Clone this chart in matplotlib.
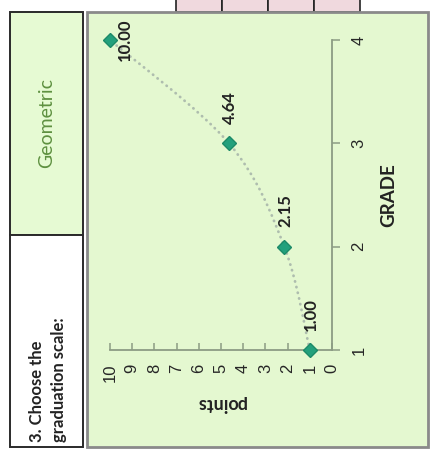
import numpy as np
import matplotlib
matplotlib.use("Agg")
import matplotlib.pyplot as plt
from matplotlib.patches import Rectangle, PathPatch
from matplotlib.path import Path

# ---- data ----
grades = [1, 2, 3, 4]
points = [1.00, 2.15, 4.64, 10.00]
point_ticks = list(range(0, 11))
grade_ticks = [1, 2, 3, 4]
scale_name = "Geometric"
prompt = "3. Choose the\ngraduation scale:"

# ---- colours ----
CHART_BG = "#e4f8d0"
CELL_BG = "#e6fad3"
PINK = "#f0d9de"
MARKER = "#23a07c"
AXIS = "#8c9c84"
DOTS = "#aebdae"

W, H = 430, 450
fig = plt.figure(figsize=(W / 100, H / 100), dpi=100)
fig.patch.set_facecolor("white")

# background layer in pixel coordinates (y downward)
bg = fig.add_axes([0, 0, 1, 1])
bg.set_xlim(0, W)
bg.set_ylim(H, 0)
bg.axis("off")

# pink header cells
for x0 in [176, 222, 268, 314]:
    bg.add_patch(Rectangle((x0, -2), 46, 14, facecolor=PINK, edgecolor="#222222", lw=1.2))

# chart frame
bg.add_patch(Rectangle((87, 12), 341, 435, facecolor=CHART_BG, edgecolor="#8a8a8a", lw=2))

# left cells
bg.add_patch(Rectangle((10, 12), 73, 223, facecolor=CELL_BG, edgecolor="#2a2a2a", lw=1.4))
bg.add_patch(Rectangle((10, 235), 73, 212, facecolor="white", edgecolor="#2a2a2a", lw=1.4))
bg.text(47, 123, scale_name, rotation=90, ha="center", va="center",
        color="#5e9040", fontsize=14, family="Lato")
bg.text(48, 442, prompt, rotation=90, ha="center", va="bottom", multialignment="left",
        color="#222222", fontsize=12, family="Lato", fontweight="bold", linespacing=1.45)

# ---- main axes: points run right-to-left, grade bottom-to-top ----
x0, x1 = 110, 332
y_top, y_bot = 40, 350
ax = fig.add_axes([x0 / W, (H - y_bot) / H, (x1 - x0) / W, (y_bot - y_top) / H])
ax.patch.set_alpha(0)
ax.set_xlim(10, 0)
ax.set_ylim(1, 4)

for s in ["top", "left"]:
    ax.spines[s].set_visible(False)
for s in ["bottom", "right"]:
    ax.spines[s].set_color(AXIS)
    ax.spines[s].set_linewidth(1.3)

ax.set_xticks(point_ticks)
ax.set_yticks(grade_ticks)
ax.yaxis.tick_right()
ax.tick_params(axis="x", direction="in", length=5, width=1.1, color=AXIS, pad=10,
               labelsize=12, labelrotation=90, labelcolor="#262626")
ax.tick_params(axis="y", direction="out", length=6, width=1.1, color=AXIS, pad=8,
               labelsize=12, labelrotation=90, labelcolor="#262626")
for lab in ax.get_xticklabels() + ax.get_yticklabels():
    lab.set_family("Liberation Sans")
for lab in ax.get_yticklabels():
    lab.set_va("center")

ax.set_xlabel("points", rotation=180, fontsize=13, family="Lato", fontweight="bold",
              color="#222222", labelpad=9)
ax.yaxis.set_label_position("right")
ax.set_ylabel("GRADE", rotation=90, fontsize=13.5, family="Lato", fontweight="bold",
              color="#222222", labelpad=10)

# smoothed dotted connector (Catmull-Rom style Bezier through the data)
pts = np.column_stack([points, grades])
padded = np.vstack([pts[0], pts, pts[-1]])
verts = [tuple(pts[0])]
codes = [Path.MOVETO]
for i in range(len(pts) - 1):
    p0, p1, p2, p3 = padded[i], padded[i + 1], padded[i + 2], padded[i + 3]
    c1 = p1 + (p2 - p0) / 6
    c2 = p2 - (p3 - p1) / 6
    verts += [tuple(c1), tuple(c2), tuple(p2)]
    codes += [Path.CURVE4] * 3
ax.add_patch(PathPatch(Path(verts, codes), facecolor="none", edgecolor=DOTS,
                       lw=2.0, linestyle=(0, (0.1, 2.0)), capstyle="round", clip_on=False))

ax.plot(points, grades, linestyle="none", marker="D", ms=7.5, color=MARKER,
        markeredgecolor="#1c8a68", clip_on=False, zorder=5)

for p, g in zip(points, grades):
    if p == max(points):
        ax.annotate(f"{p:.2f}", (p, g), xytext=(11, 0), textcoords="offset points",
                    rotation=90, ha="center", va="center", fontsize=12,
                    family="Lato", fontweight="bold", color="#222222")
    else:
        ax.annotate(f"{p:.2f}", (p, g), xytext=(1, 14), textcoords="offset points",
                    rotation=90, ha="center", va="bottom", fontsize=12,
                    family="Lato", fontweight="bold", color="#222222")

fig.savefig("out.png", dpi=100)
